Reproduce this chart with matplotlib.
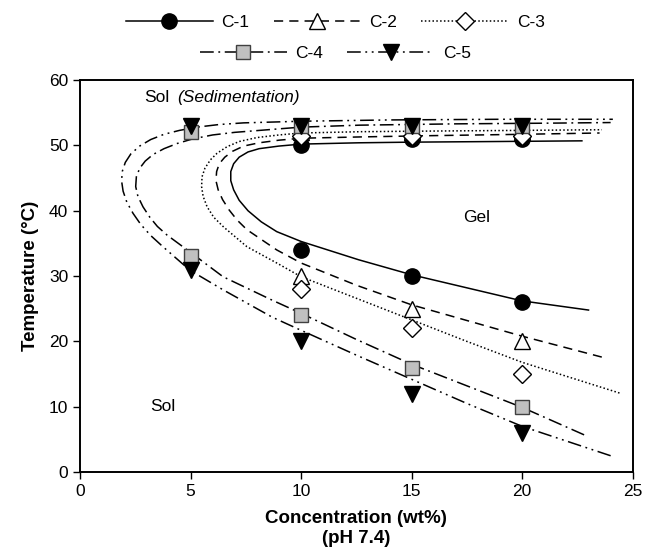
import numpy as np
import matplotlib
matplotlib.use("Agg")
import matplotlib.pyplot as plt
from matplotlib.lines import Line2D

plt.rcParams['font.family'] = ['Liberation Sans', 'DejaVu Sans']

# measured points (concentration wt%, temperature C); NaN = no point
conc = [5, 10, 15, 20]
c1_low = [np.nan, 34, 30, 26]
c1_up = [np.nan, 50, 51, 51]
c2_low = [np.nan, 30, 25, 20]
c2_up = [np.nan, 52, 52, 52]
c3_low = [np.nan, 28, 22, 15]
c3_up = [np.nan, 51.5, 51.5, 51.5]
c4_low = [33, 24, 16, 10]
c4_up = [52, 53, 53, 53]
c5_low = [31, 20, 12, 6]
c5_up = [53, 53, 53, 53]

# fitted phase boundaries (lower branch -> nose -> upper branch)
c1_fit_x = [23.0, 20.0, 17.5, 15.0, 12.6, 10.0, 8.9, 8.2, 7.6, 7.2, 6.95, 6.82, 6.82, 6.95, 7.2, 7.6, 8.1, 9.0,
            10.0, 12.6, 15.0, 19.0, 22.7]
c1_fit_t = [24.8, 26.2, 28.2, 30.2, 32.5, 35.3, 36.8, 38.3, 40.0, 41.6, 43.2, 44.6, 46.0, 47.2, 48.2, 49.0, 49.5, 49.9,
            50.2, 50.4, 50.5, 50.6, 50.7]
c2_fit_x = [23.6, 20.0, 17.5, 15.0, 12.5, 10.0, 8.9, 7.55, 7.1, 6.75, 6.45, 6.25, 6.15, 6.18, 6.3, 6.55, 6.9, 7.4,
            8.1, 9.0, 10.0, 12.7, 16.0, 20.0, 23.5]
c2_fit_t = [17.6, 20.8, 23.2, 25.6, 28.6, 32.0, 34.0, 37.1, 38.6, 40.1, 41.7, 43.2, 44.6, 46.0, 47.2, 48.2, 49.1, 49.9,
            50.4, 50.8, 51.1, 51.3, 51.5, 51.7, 51.9]
c3_fit_x = [24.4, 20.0, 17.5, 15.0, 12.5, 10.0, 8.9, 7.55, 6.5, 6.05, 5.75, 5.57, 5.5, 5.52, 5.65, 5.9, 6.2, 6.65,
            7.2, 8.0, 9.0, 10.0, 12.7, 16.0, 20.0, 23.6]
c3_fit_t = [12.1, 16.8, 20.0, 23.3, 26.6, 29.9, 32.0, 34.5, 37.5, 39.0, 40.6, 42.2, 43.7, 45.2, 46.5, 47.8, 48.8, 49.8,
            50.6, 51.2, 51.6, 51.9, 52.1, 52.2, 52.3, 52.4]
c4_fit_x = [22.8, 20.0, 17.5, 15.0, 12.5, 10.0, 8.7, 6.47, 4.97, 3.93, 3.5, 3.16, 2.85, 2.62, 2.52, 2.55, 2.7, 2.95,
            3.3, 3.8, 4.4, 5.1, 6.0, 7.0, 10.0, 12.66, 17.0, 21.0, 24.0]
c4_fit_t = [5.7, 9.9, 13.2, 16.5, 20.3, 24.3, 26.3, 29.9, 33.7, 36.3, 37.6, 39.0, 40.6, 42.2, 43.7, 45.2, 46.5, 47.6,
            48.6, 49.5, 50.3, 51.0, 51.6, 52.0, 52.8, 53.1, 53.3, 53.4, 53.5]
c5_fit_x = [24.0, 20.0, 17.5, 15.0, 12.5, 10.0, 8.7, 6.47, 4.97, 3.75, 3.2, 2.75, 2.4, 2.12, 1.95, 1.88, 1.92, 2.05,
            2.3, 2.7, 3.2, 3.8, 4.5, 5.3, 6.3, 7.4, 10.0, 14.0, 19.0, 24.1]
c5_fit_t = [2.5, 7.0, 10.5, 14.2, 17.9, 21.7, 23.7, 27.9, 30.9, 34.5, 36.2, 37.9, 39.6, 41.3, 43.0, 44.6, 46.1, 47.4,
            48.7, 49.9, 50.9, 51.7, 52.3, 52.8, 53.2, 53.45, 53.7, 53.9, 54.0, 54.0]

labels = ['C-1', 'C-2', 'C-3', 'C-4', 'C-5']

series = [
    (c1_fit_x, c1_fit_t, c1_low, c1_up, '-', 'o', 'black', 'black', 11),
    (c2_fit_x, c2_fit_t, c2_low, c2_up, (0, (6, 4)), '^', 'white', 'black', 11),
    (c3_fit_x, c3_fit_t, c3_low, c3_up, (0, (1, 1.5)), 'D', 'white', 'black', 9),
    (c4_fit_x, c4_fit_t, c4_low, c4_up, (0, (9, 3, 1.2, 3)), 's', '#c0c0c0', '#404040', 9.5),
    (c5_fit_x, c5_fit_t, c5_low, c5_up, (0, (9, 3, 1.2, 3, 1.2, 3)), 'v', 'black', 'black', 11),
]

fig = plt.figure(figsize=(6.45, 5.6), dpi=100)
ax = fig.add_axes([0.124, 0.157, 0.857, 0.700])

handles = []
for fx, ft, lo, up, ls, mk, fc, ec, ms in series:
    ax.plot(fx, ft, color='black', linestyle=ls, linewidth=1.1, zorder=2)
    ax.plot(conc, lo, linestyle='none', marker=mk, markersize=ms,
            markerfacecolor=fc, markeredgecolor=ec, markeredgewidth=1.0, zorder=3)
    ax.plot(conc, up, linestyle='none', marker=mk, markersize=ms,
            markerfacecolor=fc, markeredgecolor=ec, markeredgewidth=1.0, zorder=3)
    handles.append(Line2D([], [], color='black', linestyle=ls, linewidth=1.1, marker=mk,
                          markersize=ms, markerfacecolor=fc, markeredgecolor=ec))

ax.set_xlim(0, 25)
ax.set_ylim(0, 60)
ax.set_xticks([0, 5, 10, 15, 20, 25])
ax.set_yticks([0, 10, 20, 30, 40, 50, 60])
ax.tick_params(direction='out', length=5, width=1, labelsize=12.5)
for s in ax.spines.values():
    s.set_linewidth(1.4)

ax.set_xlabel('Concentration (wt%)\n(pH 7.4)', fontsize=13.5, fontweight='bold', labelpad=8)
ax.set_ylabel('Temperature (\u00b0C)', fontsize=13.5, fontweight='bold', labelpad=7)

ax.text(2.9, 57.3, 'Sol', fontsize=12.5, va='center', ha='left')
ax.text(4.4, 57.3, '(Sedimentation)', fontsize=12.5, va='center', ha='left', style='italic')
ax.text(17.95, 39.0, 'Gel', fontsize=12.5, va='center', ha='center')
ax.text(3.75, 10.0, 'Sol', fontsize=12.5, va='center', ha='center')

leg_kw = dict(frameon=False, fontsize=12.5, handlelength=5.0, handletextpad=0.5,
              columnspacing=1.4, numpoints=1, borderpad=0)
fig.legend(handles[:3], labels[:3], loc='center', ncol=3,
           bbox_to_anchor=(0.52, 1 - 22 / 560), **leg_kw)
fig.legend(handles[3:], labels[3:], loc='center', ncol=2,
           bbox_to_anchor=(0.52, 1 - 53 / 560), **leg_kw)

fig.savefig('out.png', dpi=100)
